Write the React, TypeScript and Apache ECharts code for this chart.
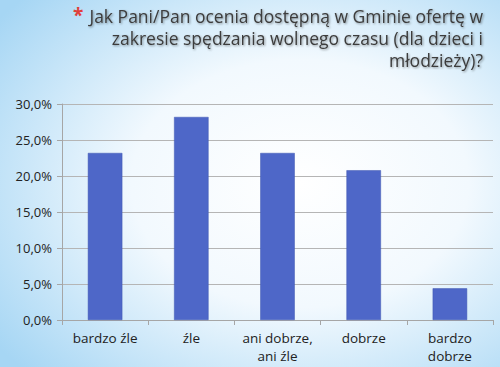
import React, { useEffect, useRef } from "react";
import * as echarts from "echarts";

const categories = ["bardzo źle", "źle", "ani dobrze,\nani źle", "dobrze", "bardzo\ndobrze"];
const values = [23.2, 28.2, 23.2, 20.8, 4.4];
const titleLines = [
  "Jak Pani/Pan ocenia dostępną w Gminie ofertę w",
  "zakresie spędzania wolnego czasu (dla dzieci i",
  "młodzieży)?",
];

export default function App() {
  const ref = useRef<HTMLDivElement>(null);
  useEffect(() => {
    if (!ref.current) return;
    const chart = echarts.init(ref.current, null, { renderer: "svg" });
    const titleStyle = {
      fill: "#3c3c3c",
      font: "17.5px 'Open Sans', sans-serif",
      textAlign: "right",
      textShadowColor: "rgba(0,0,0,0.4)",
      textShadowBlur: 2,
      textShadowOffsetX: 1,
      textShadowOffsetY: 1,
    };
    chart.setOption({
      animation: false,
      backgroundColor: {
        type: "radial",
        x: 0.6,
        y: 0.5,
        r: 0.75,
        colorStops: [
          { offset: 0, color: "#ffffff" },
          { offset: 0.45, color: "#f2f9fe" },
          { offset: 1, color: "#a6d6f4" },
        ],
      },
      graphic: [
        {
          type: "text",
          left: 73,
          top: 5,
          style: { text: "*", fill: "#e0403a", font: "bold 19px 'Open Sans', sans-serif" },
        },
        ...titleLines.map((t, i) => ({
          type: "text",
          right: 17,
          top: 7 + i * 22,
          style: { ...titleStyle, text: t },
        })),
      ],
      grid: { left: 62, right: 7, top: 104, bottom: 47, containLabel: false },
      xAxis: {
        type: "category",
        data: categories,
        axisLine: { lineStyle: { color: "#a6a6a6" } },
        axisTick: { show: true, length: 5, lineStyle: { color: "#a6a6a6" } },
        axisLabel: {
          color: "#222",
          fontFamily: "'Open Sans', sans-serif",
          fontSize: 13.5,
          lineHeight: 18,
          margin: 9,
          interval: 0,
        },
      },
      yAxis: {
        type: "value",
        min: 0,
        max: 30,
        interval: 5,
        axisLine: { show: true, lineStyle: { color: "#a6a6a6" } },
        axisTick: { show: true, length: 5, lineStyle: { color: "#a6a6a6" } },
        splitLine: { lineStyle: { color: "#b5b5b5" } },
        axisLabel: {
          color: "#222",
          fontFamily: "'Open Sans', sans-serif",
          fontSize: 13,
          margin: 10,
          formatter: (v: number) => v.toFixed(1).replace(".", ",") + "%",
        },
      },
      series: [
        {
          type: "bar",
          data: values,
          barWidth: "40%",
          itemStyle: { color: "#4e67c8", borderColor: "#3f56b0", borderWidth: 0.5 },
        },
      ],
    });
    return () => chart.dispose();
  }, []);
  return (
    <div
      ref={ref}
      style={{ position: "absolute", left: 0, top: 0, width: 500, height: 367 }}
    />
  );
}
